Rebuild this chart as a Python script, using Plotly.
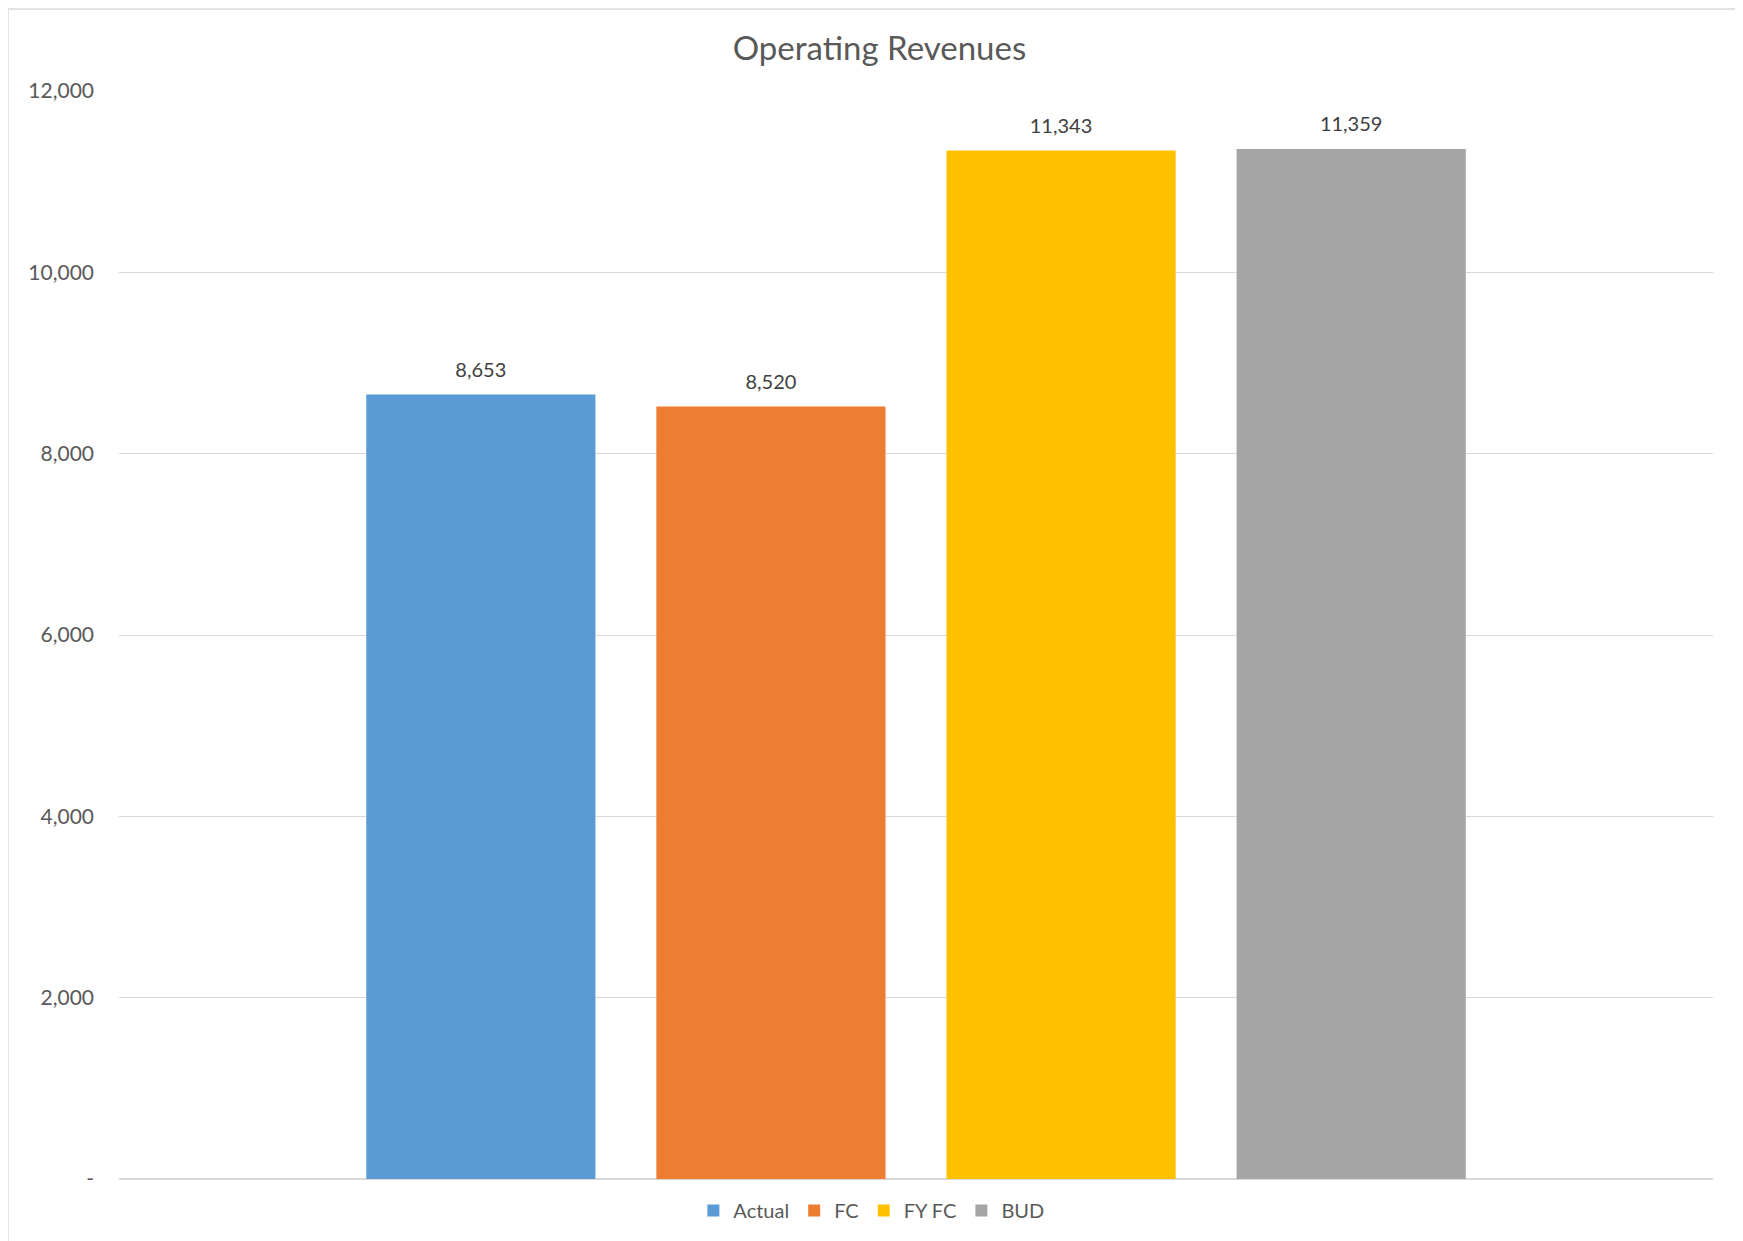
import plotly.graph_objects as go

series_names = ["Actual", "FC", "FY FC", "BUD"]
series_values = [8653, 8520, 11343, 11359]
series_colors = ["#5B9BD5", "#ED7D31", "#FFC000", "#A5A5A5"]
category = ["Operating Revenues"]
tick_vals = [0, 2000, 4000, 6000, 8000, 10000, 12000]
tick_text = ["-", "2,000", "4,000", "6,000", "8,000", "10,000", "12,000"]

FONT = "Lato, 'Open Sans', sans-serif"

W, H = 1743, 1241
L, R, T, B = 111, 38, 83, 70
PW, PH = W - L - R, H - T - B
GAP = 0.272

fig = go.Figure()
for name, val, col in zip(series_names, series_values, series_colors):
    fig.add_trace(go.Bar(
        x=category, y=[val], name=name, offsetgroup=name,
        marker=dict(color=col, line=dict(width=0)),
    ))
for name, val in zip(series_names, series_values):
    fig.add_trace(go.Scatter(
        x=category, y=[val], mode="markers+text", offsetgroup=name,
        marker=dict(size=19, opacity=0), showlegend=False,
        text=[f"{val:,}"], textposition="top center",
        textfont=dict(size=20, color="#404040", family=FONT),
        cliponaxis=False, hoverinfo="skip",
    ))

fig.update_layout(
    width=W, height=H,
    paper_bgcolor="white", plot_bgcolor="white",
    margin=dict(l=L, r=R, t=T, b=B),
    title=dict(text="Operating Revenues", x=0.5, xanchor="center",
               y=1 - 40 / H, yanchor="middle",
               font=dict(size=33, color="#595959", family=FONT)),
    barmode="group", bargap=GAP, bargroupgap=0.21,
    scattermode="group", scattergap=GAP,
    font=dict(family=FONT, color="#595959", size=20),
    showlegend=True,
    legend=dict(orientation="h", x=0.472, xanchor="center", y=-0.011, yanchor="top",
                font=dict(size=20, color="#595959", family=FONT),
                itemwidth=30, traceorder="normal"),
    xaxis=dict(showticklabels=False, showgrid=False, zeroline=False, showline=False,
               ticks=""),
    yaxis=dict(range=[0, 12000], tickvals=tick_vals, ticktext=tick_text,
               showgrid=True, gridcolor="#D9D9D9", gridwidth=1.3,
               zeroline=True, zerolinecolor="#D9D9D9", zerolinewidth=1.5,
               showline=False, ticks="", ticklabelstandoff=24,
               tickfont=dict(size=21, color="#595959", family=FONT)),
    shapes=[dict(type="rect", xref="paper", yref="paper",
                 x0=-L / PW, x1=(W - 10 - L) / PW,
                 y0=-B / PH, y1=1 + (T - 1) / PH,
                 line=dict(color="#D9D9D9", width=1.5), fillcolor="rgba(0,0,0,0)",
                 layer="below")],
)

fig.write_html("out.html")
